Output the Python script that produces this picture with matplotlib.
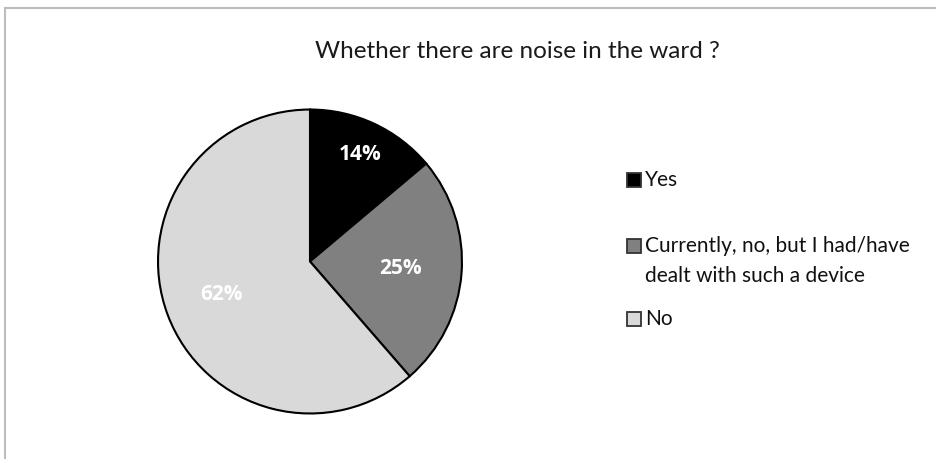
import numpy as np
import matplotlib
matplotlib.use("Agg")
import matplotlib.pyplot as plt
from matplotlib.lines import Line2D
from matplotlib.patches import Rectangle

title = "Whether there are noise in the ward ?"
categories = ["Yes", "Currently, no, but I had/have\ndealt with such a device", "No"]
values = [14, 25, 62]
pct_labels = ["14%", "25%", "62%"]
colors = ["#000000", "#808080", "#d9d9d9"]
label_radius = [0.78, 0.60, 0.62]

plt.rcParams['font.family'] = ['Lato', 'DejaVu Sans']

W, H = 937, 459
fig = plt.figure(figsize=(W / 100, H / 100), dpi=100)
fig.patch.set_facecolor("white")

# outer frame (top and left edges visible)
fig.add_artist(Line2D([5 / W, 1.0], [1 - 7.5 / H, 1 - 7.5 / H], color="#bdbdbd", lw=1.5))
fig.add_artist(Line2D([5 / W, 5 / W], [0, 1 - 7.5 / H], color="#bdbdbd", lw=1.5))

cx, cy, r = 310, 261.5, 153.5
ax = fig.add_axes([(cx - r) / W, 1 - (cy + r) / H, 2 * r / W, 2 * r / H])
wedges, _ = ax.pie(values, colors=colors, startangle=90, counterclock=False,
                   wedgeprops=dict(edgecolor="black", linewidth=1.5), radius=1.0)
ax.set_xlim(-1.01, 1.01)
ax.set_ylim(-1.01, 1.01)
ax.set_aspect("auto")
ax.axis("off")

for w, lab, rf in zip(wedges, pct_labels, label_radius):
    ang = np.deg2rad((w.theta1 + w.theta2) / 2)
    ax.text(rf * np.cos(ang), rf * np.sin(ang), lab, ha="center", va="center",
            color="white", fontsize=15, fontweight="bold",
            family=['Open Sans', 'DejaVu Sans'])

fig.text(517 / W, 1 - 52 / H, title, ha="center", va="center", fontsize=17.5, color="#1a1a1a")

# legend (handle aligned with first text line, as in the reference)
row_y = [180, 246, 319]
line_step = 30
for cat, col, y in zip(categories, colors, row_y):
    fig.add_artist(Rectangle((627 / W, 1 - (y + 7) / H), 14 / W, 14 / H,
                             facecolor=col, edgecolor="#333333", linewidth=1.3,
                             transform=fig.transFigure))
    for i, line in enumerate(cat.split("\n")):
        fig.text(645 / W, 1 - (y + i * line_step) / H, line, ha="left", va="center",
                 fontsize=15, color="#111111")

fig.savefig("out.png", dpi=100, facecolor="white")
